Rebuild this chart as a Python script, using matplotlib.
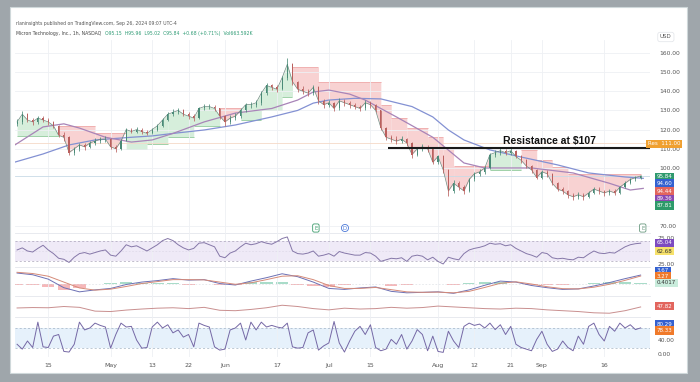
import matplotlib.pyplot as plt
from matplotlib.patches import Rectangle
import numpy as np

# ---- data (x = trading days from Apr 15) ----
first_day = -6
closes = [124, 128, 125, 124, 126, 125,
          124, 122, 117, 116, 108, 110,
          112, 111, 113, 114, 115, 115,
          111, 110, 114, 120, 119, 120,
          119, 118, 120, 122, 125, 128,
          129, 130, 128, 127, 126, 131,
          132, 132, 131, 127, 124, 126,
          127, 130, 133, 133, 134, 139,
          143, 142, 141, 147, 154, 145,
          141, 140, 139, 142, 135, 133,
          134, 131, 135, 134, 133, 132,
          131, 134, 133, 130, 121, 116,
          115, 114, 115, 113, 107, 110,
          111, 110, 103, 106, 99, 88,
          92, 90, 88, 94, 97, 98,
          100, 107, 108, 109, 108, 109,
          106, 104, 101, 99, 95, 98,
          97, 92, 89, 88, 86, 85,
          86, 85, 87, 89, 88, 87,
          88, 87, 90, 92, 94, 95,
          95.84]
highs = [125.5, 129.5, 128.5, 126, 127, 127,
         126, 124.5, 122.5, 118.5, 116.5, 111,
         113, 113, 114, 115.5, 116, 116.5,
         115.5, 112, 115, 121, 121, 121.5,
         121, 120, 121, 123, 126, 129,
         130.5, 131.5, 130.5, 129, 128, 132,
         133.5, 133.5, 133, 131.5, 127.5, 127.5,
         128.5, 131, 134, 134.5, 135.5, 140,
         144.5, 144, 143, 148, 157.5, 154.5,
         145.5, 142.5, 141, 143, 142.5, 136,
         135.5, 134.5, 136.5, 136, 135, 134,
         133, 135.5, 135, 133.5, 130, 121.5,
         117, 116.5, 116.5, 115.5, 113.5, 111,
         112.5, 112, 110.5, 107, 106.5, 99.5,
         93.5, 93, 91, 95, 98, 99.5,
         101, 108, 109.5, 110.5, 110, 110.5,
         109.5, 107, 104.5, 101.5, 99.5, 99,
         99, 97.5, 92.5, 90, 88.5, 87,
         87.5, 87, 88, 90, 90, 88.5,
         89, 89, 90.5, 93, 95, 96,
         96.5]
lows = [122, 123, 124, 122.5, 123, 124,
        122.5, 121, 116, 114, 106.5, 107,
        109, 109.5, 110.5, 112, 113, 113.5,
        110, 108.5, 109.5, 114, 118, 118,
        117.5, 117, 117.5, 119.5, 121.5, 124.5,
        127, 128, 127, 125.5, 124.5, 125.5,
        130, 130.5, 129.5, 125.5, 122, 123,
        125, 126, 129, 131.5, 132, 133,
        138, 140.5, 139.5, 140.5, 146, 143,
        139.5, 138.5, 137.5, 138, 133.5, 131.5,
        132, 129.5, 130, 132.5, 131.5, 130.5,
        129.5, 130, 131.5, 129, 120, 114.5,
        113.5, 112.5, 113, 111.5, 105, 106,
        109, 108.5, 102, 102, 97.5, 85.5,
        87, 88.5, 86.5, 87.5, 93, 96,
        97, 99.5, 105.5, 107, 106.5, 107,
        105, 102.5, 100, 97.5, 94, 94,
        95.5, 91, 88, 86.5, 84.5, 83.5,
        84, 83.5, 84.5, 86.5, 86.5, 85.5,
        86, 86, 86.5, 89.5, 91.5, 93,
        94.5]

fast_days = [-7, -1, 3, 6, 11, 16, 20, 24, 30, 36, 43, 48, 51, 54, 58, 61,
             67, 74, 80, 84, 93, 101, 108, 112, 114.5]
fast_ma = [111, 121.4, 123, 120.8, 116, 113.5, 114.6, 118, 124, 128.6, 131,
           135.4, 139.6, 140.6, 138.5, 135.4, 126.6, 116, 102.6, 100, 100,
           97.4, 92, 88.5, 89.36]
slow_days = [-7, -1, 4, 9, 16, 20, 24, 30, 36, 43, 48, 51, 54, 59, 64, 70,
             74, 77, 80, 85, 91, 98, 104, 111, 114.5]
slow_ma = [102.6, 107.3, 112, 114.6, 116, 116.7, 118, 119.8, 122.4, 126.6,
           130, 133.8, 135.4, 136.3, 136, 132, 126.6, 119.8, 114.6, 109.4,
           105.7, 101.6, 97.4, 95.3, 94.6]

# trailing-stop segments: (first day, last day, level, uptrend)
trail = [(-6, 1, 116.5, True), (2, 8, 122, False), (9, 14, 118, False),
         (15, 18, 110, True), (19, 22, 112.5, True), (23, 27, 116, True),
         (28, 32, 122, True), (33, 36, 131.5, False), (37, 40, 125, True),
         (41, 44, 130, True), (45, 46, 137, True), (47, 51, 152.5, False),
         (52, 63, 145, False), (64, 65, 133, False), (66, 68, 126, False),
         (69, 72, 121, False), (73, 75, 116, False), (76, 77, 111, False),
         (78, 84, 101, False), (85, 90, 99, True), (91, 93, 109.5, False),
         (94, 96, 104, False), (97, 99, 100.5, False), (100, 114, 97, False)]

resistance = 110.4
rsi = [52, 56, 50, 48, 55, 61,
       52, 45, 36, 34, 28, 38,
       45, 47, 44, 47, 50, 52,
       42, 40, 50, 62, 58, 60,
       55, 50, 56, 62, 70, 74,
       70, 62, 56, 52, 55, 65,
       66, 62, 58, 40, 37, 46,
       50, 58, 65, 62, 64, 68,
       65, 63, 68, 74, 77, 50,
       45, 44, 46, 50, 40, 42,
       45, 40, 49, 46, 44, 42,
       42, 47, 46, 40, 30, 33,
       36, 35, 37, 30, 40, 42,
       40, 33, 38, 30, 25, 38,
       35, 33, 45, 52, 55, 57,
       60, 65, 63, 64, 60, 62,
       55, 50, 45, 42, 38, 47,
       45, 37, 35, 36, 34, 33,
       38, 37, 44, 50, 46, 45,
       47, 46, 52, 58, 62, 64,
       65.04]

step_days = list(range(-6, 115, 3))
macd = [4.5, 3.8, 2.0, -1.5, -3.2, -2.4, -1.8, -0.2, 0.8, 1.4, 2.2, 1.6, 1.8,
        0.2, -0.4, 1.2, 2.6, 4.2, 3.0, 0.8, -1.8, -2.2, -1.6, -1.2, -3.0,
        -3.6, -3.4, -3.2, -3.8, -2.4, -0.5, 1.2, 0.8, -0.6, -1.5, -2.2, -2.0,
        -0.8, 0.6, 2.2, 3.67]
signal = [4.8, 4.3, 3.2, 0.8, -1.6, -2.5, -2.1, -1.0, 0.2, 1.0, 1.8, 1.8, 1.7,
          0.8, -0.1, 0.5, 1.8, 3.2, 3.4, 1.8, -0.6, -1.8, -1.8, -1.4, -2.3,
          -3.2, -3.4, -3.3, -3.6, -3.0, -1.4, 0.3, 0.9, 0.0, -1.1, -1.9, -2.0,
          -1.3, -0.1, 1.5, 3.27]
osc = [43, 45, 44, 50, 46, 28, 26, 33, 38, 42, 44, 40, 46, 32, 30, 36, 44, 56,
       50, 40, 34, 42, 38, 40, 46, 42, 45, 52, 48, 44, 40, 38, 42, 40, 34, 30,
       26, 20, 18, 30, 47.82]
stoch = [30, 15, 40, 20, 98, 22,
         20, 55, 60, 8, 6, 30,
         98, 74, 80, 95, 88, 83,
         18, 60, 95, 83, 85, 43,
         18, 20, 83, 98, 80, 90,
         65, 74, 52, 60, 22, 95,
         88, 83, 22, 12, 15, 74,
         80, 95, 43, 98, 74, 98,
         83, 88, 83, 80, 95, 22,
         18, 20, 65, 74, 12, 25,
         34, 100, 34, 6, 40, 70,
         85, 60, 90, 20, 10, 15,
         45, 30, 60, 15, 40, 75,
         60, 10, 55, 8, 5, 70,
         40, 20, 85, 95, 88, 92,
         80, 95, 75, 90, 60, 85,
         30, 20, 15, 10, 45, 70,
         30, 8, 15, 40, 20, 10,
         55, 30, 85, 95, 60, 40,
         85, 70, 95, 80, 90, 75,
         80.29]

tick_days = [0, 12, 20, 27, 34, 44, 54, 62, 75, 82, 89, 95, 107]
tick_labels = ['15', 'May', '13', '22', 'Jun', '17', 'Jul', '15', 'Aug',
               '12', '21', 'Sep', '16']

# ---- figure ----
W, H = 700, 382
fig = plt.figure(figsize=(7, 3.82), dpi=100)
fig.patch.set_facecolor('#9fa6ab')


def fx(px):
    return px / W


def fy(py):
    return 1 - py / H


fig.add_artist(Rectangle((fx(10), fy(373)), fx(687) - fx(10), (373 - 7) / H,
                         transform=fig.transFigure, fc='white', ec='#cfd8da',
                         lw=0.8, zorder=-5))

XL, XR = 15, 650
XLIM = (-6.4, 115.8)


def pane(top, bottom):
    ax = fig.add_axes([fx(XL), fy(bottom), fx(XR) - fx(XL), (bottom - top) / H])
    ax.set_facecolor('none')
    ax.set_xlim(*XLIM)
    ax.set_xticks(tick_days)
    ax.set_xticklabels([])
    ax.tick_params(length=0, labelsize=4.5, labelcolor='#555')
    ax.grid(axis='x', color='#eef0f4', lw=0.6)
    for s in ['top', 'left', 'right']:
        ax.spines[s].set_visible(False)
    ax.spines['bottom'].set_color('#e4e7ec')
    ax.spines['bottom'].set_linewidth(0.6)
    ax.set_yticks([])
    return ax


days = np.arange(first_day, first_day + len(closes))
closes_a = np.array(closes)
last_day = days[-1]
opens = np.array([123] + closes[:-1])
up = closes_a >= opens
cols = np.where(up, '#4a8a77', '#b9605e')

# price pane
ax = pane(40, 233)
ax.set_ylim(66.1, 166.7)
yt = [70, 100, 110, 120, 130, 140, 150, 160]
ax.set_yticks(yt)
ax.set_yticklabels(['%.2f' % v for v in yt])
ax.yaxis.tick_right()
ax.tick_params(axis='y', pad=7, labelsize=4.3)
ax.grid(axis='y', color='#eef0f4', lw=0.6)
ax.axhline(112.8, color='#f5d9c8', lw=0.6)
ax.axhline(95.84, color='#c9dbe6', lw=0.6)

for s, e, lvl, is_up in trail:
    stop = min(e + 1, last_day)
    d = np.arange(s, stop + 1)
    c = closes_a[d - first_day]
    ax.fill_between(d, c, lvl, color='#d6eedb' if is_up else '#f8d2d2',
                    lw=0, zorder=1)
    ax.hlines(lvl, s, stop, color='#9fd1a8' if is_up else '#f0b0b0', lw=0.7,
              zorder=1.5)

ax.plot(slow_days, slow_ma, color='#8391d3', lw=0.9, zorder=2)
ax.plot(fast_days, fast_ma, color='#a884b8', lw=0.9, zorder=2)

ax.plot(days, closes_a, color='#6f8a80', lw=0.5, zorder=2.5)
ax.vlines(days, lows, highs, colors=cols, lw=0.55, zorder=3)
ax.bar(days, closes_a - opens, bottom=opens, width=0.22, color=cols, zorder=3)

ax.hlines(resistance, 65.4, 115.8, color='#1a1a1a', lw=1.5, zorder=4)
ax.text(96.5, resistance + 1.0, 'Resistance at $107', ha='center',
        va='bottom', fontsize=7.5, fontweight='bold', color='#111',
        family='Liberation Sans', zorder=5)

for d, t, ec in [(51.5, 'E', '#3c9c6c'), (57.1, 'D', '#4a78d8'),
                 (114.4, 'E', '#6a9a80')]:
    ax.text(d, 68.7, t, ha='center', va='center', fontsize=3.8, color=ec,
            bbox=dict(boxstyle='round,pad=0.3' if t == 'E' else 'circle,pad=0.2',
                      fc='white', ec=ec, lw=0.6), zorder=5)

# RSI pane
ax = pane(233, 267)
ax.set_ylim(19.2, 84.6)
ax.axhspan(30, 70, color='#efeaf7', lw=0)
ax.axhline(70, color='#a9a3b8', lw=0.5, ls=(0, (3, 3)))
ax.axhline(30, color='#a9a3b8', lw=0.5, ls=(0, (3, 3)))
ax.axhline(50, color='#d9d4e3', lw=0.4, ls=(0, (3, 3)))
ax.plot(days, rsi, color='#8577a8', lw=0.7)

# MACD pane
ax = pane(267, 296)
ax.set_ylim(-4.9, 6.97)
hist = np.array(macd) - np.array(signal)
ax.bar(step_days, hist, width=2.4,
       color=np.where(hist >= 0, '#a9dcc9', '#f6b7b9'), lw=0)
ax.axhline(0, color='#d7dbe0', lw=0.4, ls=(0, (3, 3)))
ax.plot(step_days, macd, color='#6c70b4', lw=0.7)
ax.plot(step_days, signal, color='#d58a78', lw=0.7)

# oscillator pane
ax = pane(296, 317)
ax.set_ylim(0, 100)
ax.plot(step_days, osc, color='#c98f8f', lw=0.7)

# stochastic pane
ax = pane(317, 357)
ax.set_ylim(-9.2, 113.8)
ax.axhspan(20, 80, color='#e6f1fb', lw=0)
ax.axhline(80, color='#a3b3c3', lw=0.5, ls=(0, (3, 3)))
ax.axhline(20, color='#a3b3c3', lw=0.5, ls=(0, (3, 3)))
ax.plot(days, stoch, color='#7568a5', lw=0.7)
ax.set_xticklabels(tick_labels)
ax.tick_params(axis='x', pad=4)
ax.spines['bottom'].set_visible(False)

# ---- header ----
fig.text(fx(16), fy(23), 'rlaninsights published on TradingView.com, Sep 26, 2024 09:07 UTC-4',
         fontsize=3.3, color='#555', va='center')
fig.text(fx(16), fy(34), 'Micron Technology, Inc., 1h, NASDAQ', fontsize=3.3,
         color='#444', va='center')
fig.text(fx(105), fy(34), 'O95.15  H95.96  L95.02  C95.84  +0.68 (+0.71%)  Vol663.592K',
         fontsize=3.3, color='#2e9b74', va='center')


# ---- right scale labels / tags ----
def plain(py, text):
    fig.text(fx(658), fy(py), text, fontsize=4.3, color='#555', va='center')


def tag(py, text, bg, fg='white', x=657):
    fig.text(fx(x), fy(py), text, fontsize=4, color=fg, va='center',
             bbox=dict(boxstyle='square,pad=0.3', fc=bg, ec='none'))


fig.text(fx(660), fy(37), 'USD', fontsize=4, color='#555', va='center',
         bbox=dict(boxstyle='round,pad=0.4', fc='white', ec='#e0e3e8', lw=0.5))
plain(238, '75.00')
plain(264, '25.00')
plain(341, '40.00')
plain(354, '0.00')
tag(144, 'Res  111.00', '#f0a030', x=648)
tag(177, '95.84', '#2f9a6e')
tag(183.5, '94.60', '#3461d0')
tag(191.5, '94.44', '#e2655d')
tag(199, '89.36', '#8a48b0')
tag(205.5, '87.81', '#2d9a6a')
tag(243, '65.04', '#7d4bc0')
tag(251, '62.68', '#f7e26b', fg='#333')
tag(271, '3.67', '#3461d0')
tag(276.5, '3.27', '#f07a2a')
tag(283, '0.4017', '#c9ecdc', fg='#333')
tag(306, '47.82', '#e2655d')
tag(324, '80.29', '#3461d0')
tag(330.5, '78.33', '#f07a2a')

fig.savefig('out.png', dpi=100, facecolor=fig.get_facecolor())
